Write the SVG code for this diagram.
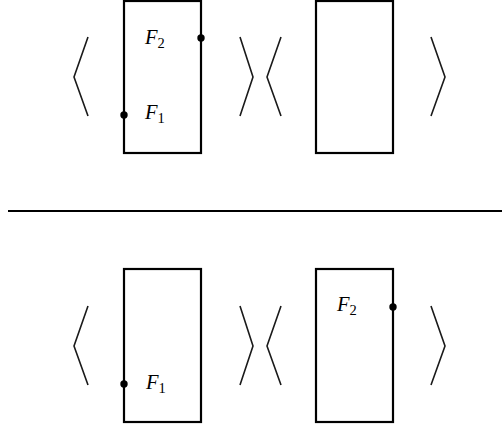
<svg xmlns="http://www.w3.org/2000/svg" width="502" height="430" viewBox="0 0 502 430">
<style>
.box{fill:none;stroke:#000;stroke-width:2.2}
.br{fill:none;stroke:#1a1a1a;stroke-width:1.6}
.dot{fill:#000}
.lbl{font-family:"Liberation Serif",serif;font-style:italic;font-size:20.5px;fill:#000}
.sub{font-style:normal;font-size:14.5px}
</style>
<rect width="502" height="430" fill="#fff"/>
<g id="connectors">
<line x1="8" y1="211" x2="502" y2="211" stroke="#000" stroke-width="2.2"/>
</g>
<g id="top-row">
<polyline class="br" points="88,37 74,77 88,116"/>
<g id="top-box1">
<rect class="box" x="124" y="1" width="77" height="152"/>
<circle class="dot" cx="201" cy="38" r="3.7"/>
<circle class="dot" cx="124" cy="115" r="3.7"/>
<text class="lbl" x="145" y="44">F<tspan class="sub" dx="0" dy="4">2</tspan></text>
<text class="lbl" x="145" y="119">F<tspan class="sub" dy="4">1</tspan></text>
</g>
<polyline class="br" points="240,37 253,77 240,116"/>
<polyline class="br" points="281,37 267,77 281,116"/>
<g id="top-box2">
<rect class="box" x="316" y="1" width="77" height="152"/>
</g>
<polyline class="br" points="431,37 445,77 431,116"/>
</g>
<g id="bottom-row">
<polyline class="br" points="88,306 74,346 88,385"/>
<g id="bottom-box1">
<rect class="box" x="124" y="269" width="77" height="153"/>
<circle class="dot" cx="124" cy="384" r="3.7"/>
<text class="lbl" x="146" y="389">F<tspan class="sub" dy="4">1</tspan></text>
</g>
<polyline class="br" points="240,306 253,346 240,385"/>
<polyline class="br" points="281,306 267,346 281,385"/>
<g id="bottom-box2">
<rect class="box" x="316" y="269" width="77" height="153"/>
<circle class="dot" cx="393" cy="307" r="3.7"/>
<text class="lbl" x="337" y="311">F<tspan class="sub" dy="4">2</tspan></text>
</g>
<polyline class="br" points="431,306 445,346 431,385"/>
</g>
</svg>
